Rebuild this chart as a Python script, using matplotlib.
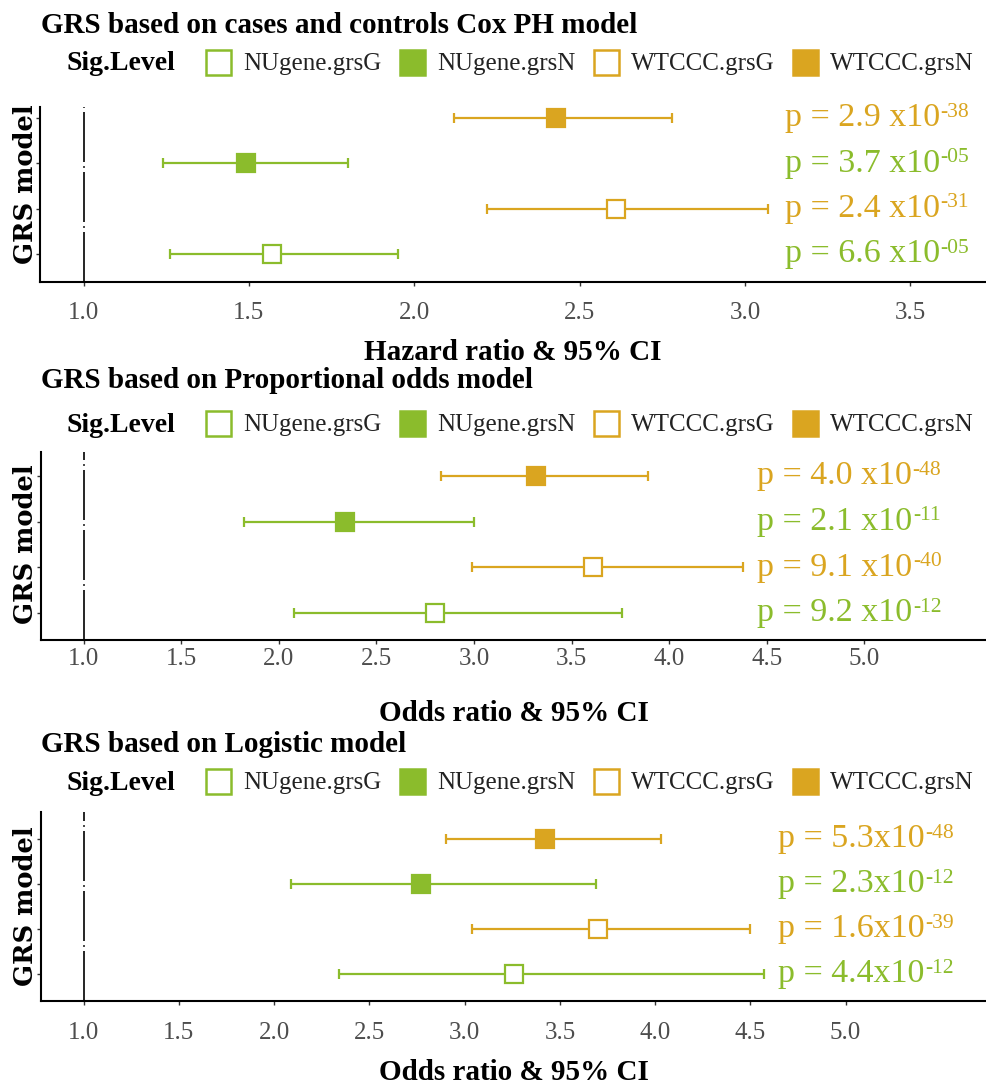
import matplotlib
matplotlib.use("Agg")
import matplotlib.pyplot as plt
from matplotlib.lines import Line2D

plt.rcParams['font.family'] = ['Liberation Serif', 'DejaVu Serif']

# ---------------------------------------------------------------- data
groups = ['NUgene.grsG', 'NUgene.grsN', 'WTCCC.grsG', 'WTCCC.grsN']
# vertical slot of each GRS model (1 = bottom row)
group_rows = [1, 3, 2, 4]

GREEN = '#8BBC2C'
GOLD = '#DAA520'
group_colors = [GREEN, GREEN, GOLD, GOLD]
group_filled = [False, True, False, True]

# Cox proportional hazards model
cox_est = [1.57, 1.49, 2.61, 2.43]
cox_lo = [1.26, 1.24, 2.22, 2.12]
cox_hi = [1.95, 1.80, 3.07, 2.78]
cox_p = ['6.6', '3.7', '2.4', '2.9']
cox_exp = ['-05', '-05', '-31', '-38']
cox_ticks = [1.0, 1.5, 2.0, 2.5, 3.0, 3.5]

# proportional odds model
po_est = [2.80, 2.34, 3.61, 3.32]
po_lo = [2.08, 1.82, 2.99, 2.83]
po_hi = [3.76, 3.00, 4.38, 3.89]
po_p = ['9.2', '2.1', '9.1', '4.0']
po_exp = ['-12', '-11', '-40', '-48']
po_ticks = [1.0, 1.5, 2.0, 2.5, 3.0, 3.5, 4.0, 4.5, 5.0]

# logistic model
lg_est = [3.26, 2.77, 3.70, 3.42]
lg_lo = [2.34, 2.09, 3.04, 2.90]
lg_hi = [4.57, 3.69, 4.50, 4.03]
lg_p = ['4.4', '2.3', '1.6', '5.3']
lg_exp = ['-12', '-12', '-39', '-48']
lg_ticks = [1.0, 1.5, 2.0, 2.5, 3.0, 3.5, 4.0, 4.5, 5.0]

titles = ['GRS based on cases and controls Cox PH model',
          'GRS based on Proportional odds model',
          'GRS based on Logistic model']
xlabels = ['Hazard ratio & 95% CI', 'Odds ratio & 95% CI', 'Odds ratio & 95% CI']
ylabel = 'GRS model'
legend_title = 'Sig.Level'

# ---------------------------------------------------------------- layout (pixels)
W, H = 986, 1088
fig = plt.figure(figsize=(W / 100, H / 100), dpi=100)


def fx(px):
    return px / W


def fy(py):
    return 1 - py / H


panels = [
    dict(est=cox_est, lo=cox_lo, hi=cox_hi, p=cox_p, ex=cox_exp, ticks=cox_ticks,
         box=(40, 107, 282), xlim=(0.868, 3.729), ylim=(0.382, 4.243),
         label_x=3.12, sep=' ', pad=11.5,
         title_y=33, legend_y=64, xlabel_y=360, ylabel_y=184),
    dict(est=po_est, lo=po_lo, hi=po_hi, p=po_p, ex=po_exp, ticks=po_ticks,
         box=(41, 452, 640), xlim=(0.782, 5.623), ylim=(0.409, 4.526),
         label_x=4.45, sep=' ', pad=2.5,
         title_y=388, legend_y=425, xlabel_y=721, ylabel_y=544),
    dict(est=lg_est, lo=lg_lo, hi=lg_hi, p=lg_p, ex=lg_exp, ticks=lg_ticks,
         box=(41, 812, 1001), xlim=(0.776, 5.737), ylim=(0.4, 4.6),
         label_x=4.645, sep='', pad=12.0,
         title_y=752, legend_y=783, xlabel_y=1080, ylabel_y=906),
]

TICK_GRAY = '#4D4D4D'

for k, pn in enumerate(panels):
    left, top, bottom = pn['box']
    ax = fig.add_axes([fx(left), fy(bottom), fx(W) - fx(left), (bottom - top) / H])
    ax.set_xlim(*pn['xlim'])
    ax.set_ylim(*pn['ylim'])
    ax.set_facecolor('white')

    # null-effect reference line
    ax.axvline(1.0, color='black', lw=1.2, linestyle=(0, (30, 2.5, 1, 2.5)), zorder=1)

    for i, g in enumerate(groups):
        y = group_rows[i]
        c = group_colors[i]
        est, lo, hi = pn['est'][i], pn['lo'][i], pn['hi'][i]
        ax.errorbar([est], [y], xerr=[[est - lo], [hi - est]], fmt='none',
                    ecolor=c, elinewidth=1.6, capsize=3.9, capthick=1.6, zorder=2)
        ax.plot([est], [y], marker='s', linestyle='none', markersize=13,
                markerfacecolor=c if group_filled[i] else 'white',
                markeredgecolor=c, markeredgewidth=1.6, zorder=3)
        t = ax.text(pn['label_x'], y, f"p = {pn['p'][i]}{pn['sep']}x10",
                    color=c, fontsize=24.5, va='center', ha='left', zorder=4)
        ax.annotate(pn['ex'][i], xy=(1, 1), xycoords=t, xytext=(0.5, 0),
                    textcoords='offset points', color=c, fontsize=15.5,
                    va='top', ha='left')

    # axes styling
    for side in ('top', 'right'):
        ax.spines[side].set_visible(False)
    for side in ('left', 'bottom'):
        ax.spines[side].set_linewidth(1.5)
        ax.spines[side].set_color('black')
    ax.set_xticks(pn['ticks'])
    ax.set_xticklabels([f'{v:.1f}' for v in pn['ticks']])
    ax.set_yticks([1, 2, 3, 4])
    ax.set_yticklabels([])
    ax.tick_params(axis='x', length=3, width=1.0, color='#333333',
                   labelsize=18, labelcolor=TICK_GRAY, pad=pn['pad'])
    ax.tick_params(axis='y', length=3, width=1.0, color='#333333')

    # titles and axis labels
    fig.text(fx(41), fy(pn['title_y']), titles[k], fontsize=21, fontweight='bold',
             ha='left', va='baseline', color='black')
    fig.text(fx((left + W) / 2), fy(pn['xlabel_y']), xlabels[k], fontsize=21,
             fontweight='bold', ha='center', va='baseline', color='black')
    fig.text(fx(26), fy(pn['ylabel_y']), ylabel, rotation=90, fontsize=18.5,
             fontweight='bold', family='DejaVu Serif', ha='center', va='center',
             color='black')

    # legend row
    fig.text(fx(67), fy(pn['legend_y']), legend_title, fontsize=20, fontweight='bold',
             ha='left', va='center', color='black')
    handles = [Line2D([], [], marker='s', linestyle='none', markersize=18,
                      markerfacecolor=group_colors[i] if group_filled[i] else 'white',
                      markeredgecolor=group_colors[i], markeredgewidth=1.8)
               for i in range(len(groups))]
    ax.legend(handles, groups, ncol=4, loc='center left',
              bbox_to_anchor=(fx(205), fy(pn['legend_y'])),
              bbox_transform=fig.transFigure, frameon=False, fontsize=18,
              handlelength=1.04, handletextpad=0.5, columnspacing=0.68,
              borderpad=0, borderaxespad=0, labelcolor='#222222')

fig.savefig('out.png', dpi=100, facecolor='white')
